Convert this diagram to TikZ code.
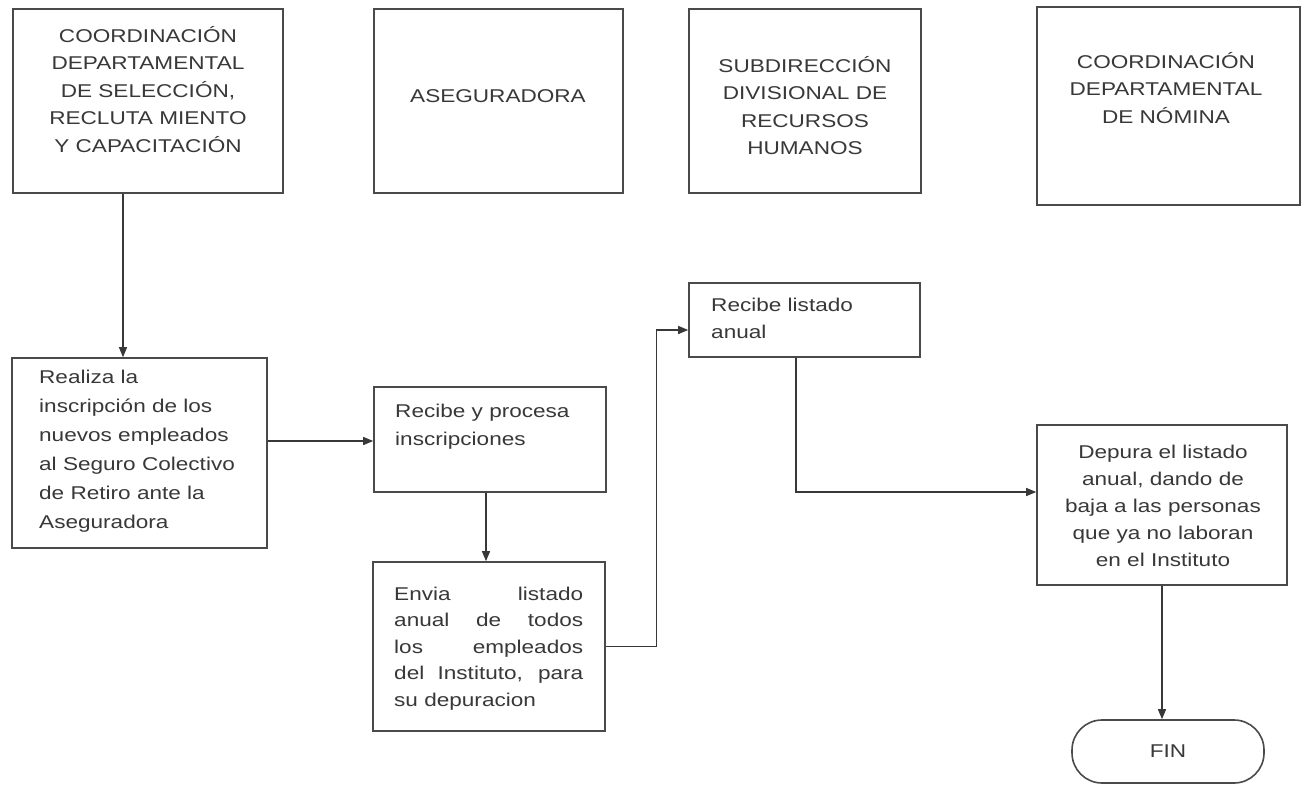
\documentclass[tikz,border=0pt]{standalone}
\usepackage{fontspec}
\setmainfont{Liberation Sans}
\newfontfamily\widesans[FakeStretch=1.22]{Liberation Sans}
\usetikzlibrary{arrows.meta}
\definecolor{ink}{HTML}{383838}
\definecolor{frame}{HTML}{4A4A4A}
\newcommand\headfont{\widesans\fontsize{18.5}{27.5}\selectfont}
\newcommand\stepfont{\widesans\fontsize{18.5}{28.5}\selectfont}
\begin{document}
\begin{tikzpicture}[x=1pt,y=-1pt,
  box/.style={draw=frame, line width=1.6pt, inner sep=0pt, fill=white},
  lbl/.style={inner sep=0pt, text=ink},
  flow/.style={draw=ink, line width=1.3pt, -{Triangle[length=10pt,width=8pt]}}]
\fill[white] (0,0) rectangle (1305,784);
\path[use as bounding box] (0,0) rectangle (1305,784);

% lane headers
\node[box, minimum width=270pt, minimum height=184pt] (h1) at (148,101) {};
\node[box, minimum width=249pt, minimum height=184pt] (h2) at (498.5,101) {};
\node[box, minimum width=232pt, minimum height=184pt] (h3) at (805,101) {};
\node[box, minimum width=263pt, minimum height=198pt] (h4) at (1168.5,106) {};

\node[lbl, anchor=base, font=\headfont] (h1t) at (148,42)
  {\parbox[t]{260pt}{\centering COORDINACIÓN\\DEPARTAMENTAL\\DE SELECCIÓN,\\RECLUTA MIENTO\\Y CAPACITACIÓN}};
\node[lbl, anchor=base, font=\headfont] (h2t) at (498,102) {ASEGURADORA};
\node[lbl, anchor=base, font=\headfont] (h3t) at (805,72)
  {\parbox[t]{220pt}{\centering SUBDIRECCIÓN\\DIVISIONAL DE\\RECURSOS\\HUMANOS}};
\node[lbl, anchor=base, font=\headfont] (h4t) at (1166,68)
  {\parbox[t]{250pt}{\centering COORDINACIÓN\\DEPARTAMENTAL\\DE NÓMINA}};

% process steps
\node[box, minimum width=255pt, minimum height=190pt] (p1) at (139.5,453) {};
\node[box, minimum width=232pt, minimum height=105pt] (p2) at (490,439.5) {};
\node[box, minimum width=232pt, minimum height=169pt] (p3) at (489,646.5) {};
\node[box, minimum width=231pt, minimum height=74pt] (p4) at (804.5,320) {};
\node[box, minimum width=250pt, minimum height=160pt] (p5) at (1162,505) {};
\node[box, rounded corners=30pt, minimum width=192pt, minimum height=63pt,
      font=\headfont, text=ink] (fin) at (1168,751.5) {FIN};

\node[lbl, anchor=base west, font=\widesans\fontsize{18.5}{29}\selectfont] (p1t) at (39,383)
  {\parbox[t]{225pt}{\raggedright Realiza la\\inscripción de los\\nuevos empleados\\al Seguro Colectivo\\de Retiro ante la\\Aseguradora}};
\node[lbl, anchor=base west, font=\widesans\fontsize{18.5}{28}\selectfont] (p2t) at (395,417)
  {\parbox[t]{200pt}{\raggedright Recibe y procesa\\inscripciones}};
\node[lbl, anchor=base west, font=\widesans\fontsize{18.5}{26.5}\selectfont] (p3t) at (394,600)
  {\parbox[t]{189pt}{\makebox[189pt][s]{Envia listado}\\\makebox[189pt][s]{anual de todos}\\\makebox[189pt][s]{los empleados}\\\makebox[189pt][s]{del Instituto, para}\\su depuracion}};
\node[lbl, anchor=base west, font=\widesans\fontsize{18.5}{27}\selectfont] (p4t) at (711,311)
  {\parbox[t]{200pt}{\raggedright Recibe listado\\anual}};
\node[lbl, anchor=base, font=\widesans\fontsize{18.5}{27}\selectfont] (p5t) at (1163,458)
  {\parbox[t]{240pt}{\centering Depura el listado\\anual, dando de\\baja a las personas\\que ya no laboran\\en el Instituto}};

% connectors
\draw[flow] ([xshift=-25pt]h1.south) -- ([xshift=-25pt]h1.south |- p1.north);
\draw[flow] ([yshift=12pt]p1.east) -- ([yshift=12pt]p1.east -| p2.west);
\draw[flow] ([xshift=-4pt]p2.south) -- ([xshift=-4pt]p2.south |- p3.north);
\draw[flow] (p3.east) -| ([xshift=-32pt,yshift=-10pt]p4.west) -- ([yshift=-10pt]p4.west);
\draw[flow] ([xshift=-8.5pt]p4.south) |- ([yshift=13pt]p5.west);
\draw[flow] (p5.south) -- (p5.south |- fin.north);
\end{tikzpicture}
\end{document}
